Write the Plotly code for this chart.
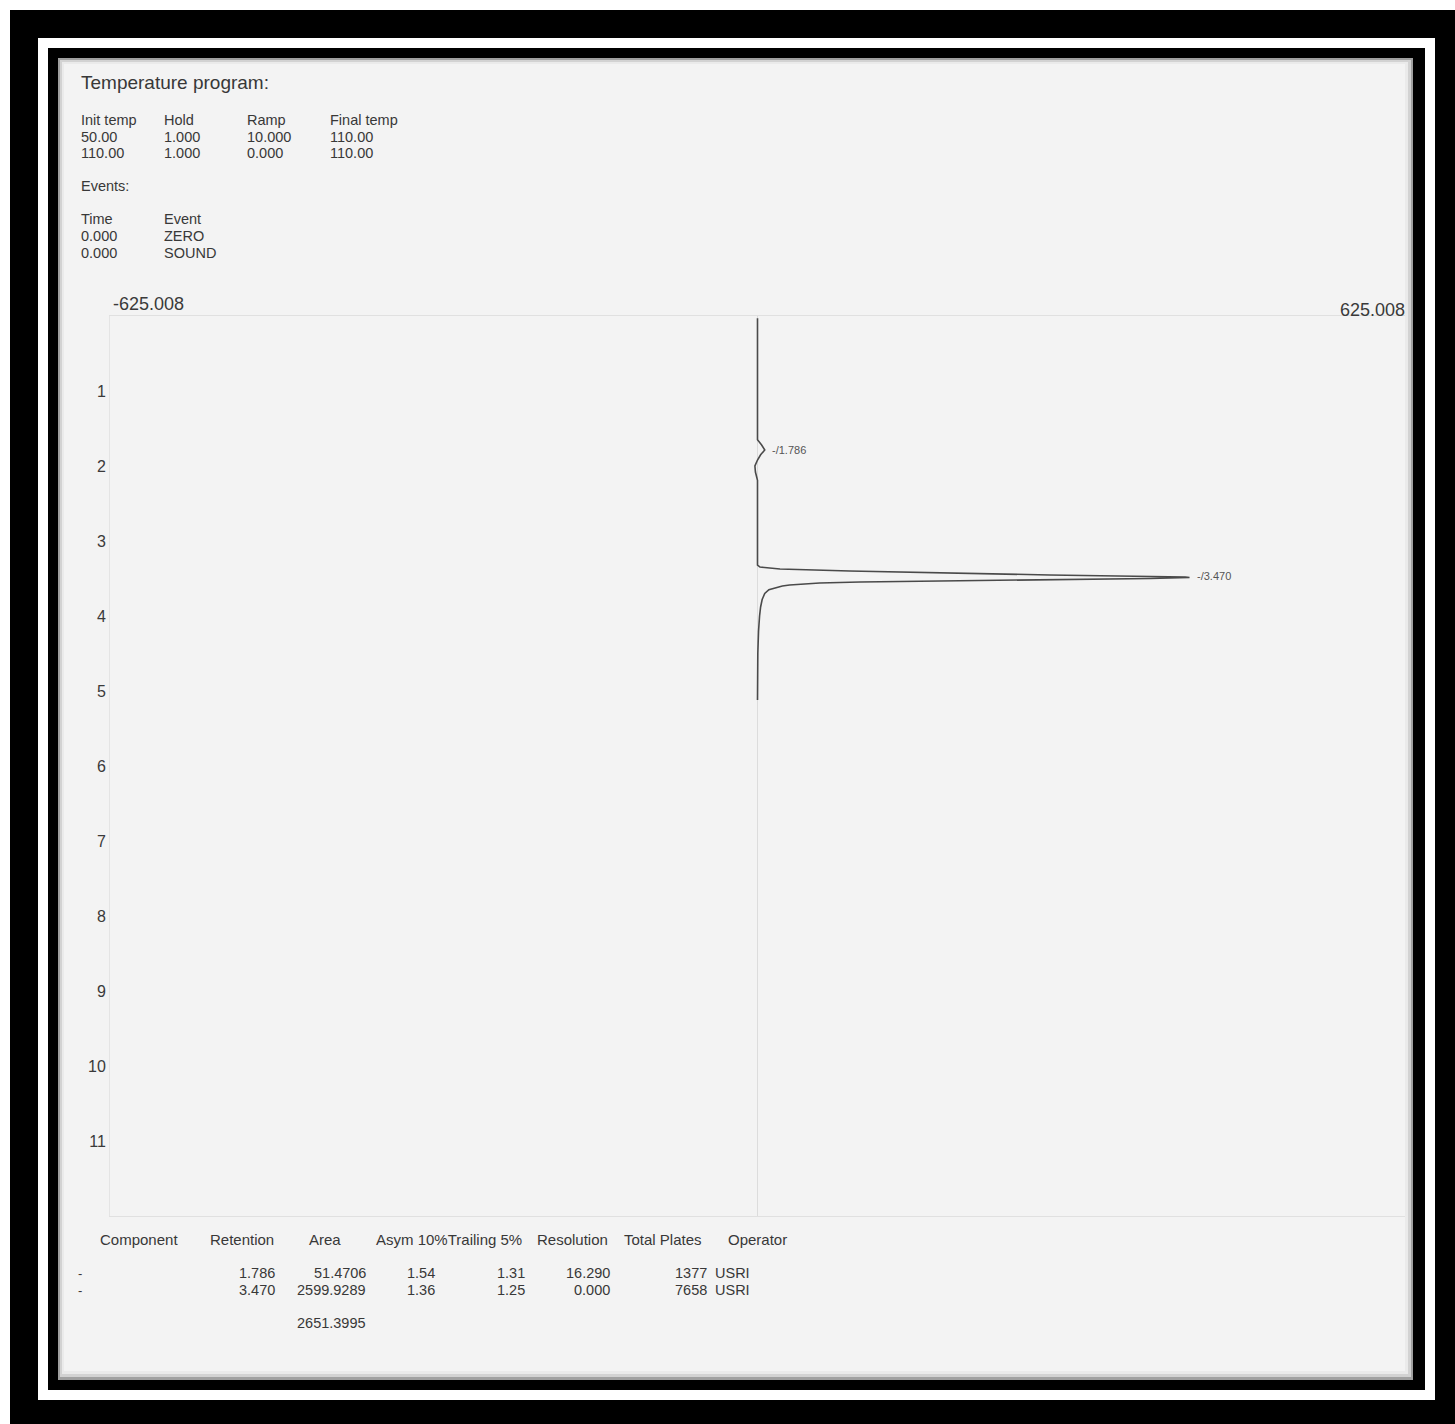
import plotly.graph_objects as go

W, H = 1455, 1424

# ---------------- data ----------------
# chromatogram: detector signal vs retention time (min)
time_min = [0.03, 1.65, 1.72, 1.787, 1.85, 1.92, 2.00, 2.08, 2.19,
            3.32, 3.347, 3.373, 3.40, 3.427, 3.453, 3.48, 3.487,
            3.50, 3.52, 3.533, 3.547, 3.56, 3.587, 3.60, 3.65, 3.70,
            3.78, 3.88, 4.00, 4.20, 4.50, 5.12]
signal = [0, 0, 4, 7, 3, 0, -2.5, -2, 0,
          0, 2.4, 21.7, 89, 176, 282, 413, 417,
          379, 282, 176, 99, 60, 31, 24, 11, 7,
          4.5, 3, 2, 1, 0.3, 0]

x_range = [-625.008, 625.008]
x_range_labels = ["-625.008", "625.008"]
time_ticks = [1, 2, 3, 4, 5, 6, 7, 8, 9, 10, 11]

peak_retention = [1.786, 3.470]
peak_signal = [7, 417]
peak_labels = ["-/1.786", "-/3.470"]

# temperature program
temp_headers = ["Init temp", "Hold", "Ramp", "Final temp"]
temp_rows = [["50.00", "1.000", "10.000", "110.00"],
             ["110.00", "1.000", "0.000", "110.00"]]

# events
event_headers = ["Time", "Event"]
event_rows = [["0.000", "ZERO"], ["0.000", "SOUND"]]

# results table
res_headers = ["Component", "Retention", "Area", "Asym 10%Trailing 5%",
               "Resolution", "Total Plates", "Operator"]
component = ["-", "-"]
retention = ["1.786", "3.470"]
area = ["51.4706", "2599.9289"]
asym10 = ["1.54", "1.36"]
trailing5 = ["1.31", "1.25"]
resolution = ["16.290", "0.000"]
plates = ["1377", "7658"]
operator = ["USRI", "USRI"]
area_total = "2651.3995"

# ---------------- figure ----------------
FONT = "Liberation Sans, Arial, sans-serif"
TXT = "#383838"

fig = go.Figure()
fig.add_trace(go.Scatter(x=signal, y=time_min, mode="lines",
                         line=dict(color="#4a4a4a", width=1.6),
                         hoverinfo="skip"))

ann = []


def txt(xp, yp, s, size, anchor="left", color=TXT):
    ann.append(dict(xref="paper", yref="paper", x=xp / W, y=1 - yp / H,
                    text=s, showarrow=False, xanchor=anchor, yanchor="middle",
                    font=dict(family=FONT, size=size, color=color)))


# top text block
txt(79, 82, "Temperature program:", 19)
col_x = [79, 162, 245, 328]
for cx, h in zip(col_x, temp_headers):
    txt(cx, 120, h, 14.5)
for ry, row in zip([137, 153], temp_rows):
    for cx, v in zip(col_x, row):
        txt(cx, ry, v, 14.5)
txt(79, 186, "Events:", 14.5)
for cx, h in zip(col_x[:2], event_headers):
    txt(cx, 219, h, 14.5)
for ry, row in zip([236, 253], event_rows):
    for cx, v in zip(col_x[:2], row):
        txt(cx, ry, v, 14.5)

# bottom results table
hdr_cx = [139, 242, 325, 449, 572, 663, 757]
for cx, h in zip(hdr_cx, res_headers):
    txt(cx, 1239, h, 15, anchor="center")
for i, ry in enumerate([1273, 1290]):
    txt(76, ry, component[i], 13)
    txt(277, ry, retention[i], 14.5, anchor="right")
    txt(368, ry, area[i], 14.5, anchor="right")
    txt(437, ry, asym10[i], 14.5, anchor="right")
    txt(527, ry, trailing5[i], 14.5, anchor="right")
    txt(612, ry, resolution[i], 14.5, anchor="right")
    txt(709, ry, plates[i], 14.5, anchor="right")
    txt(713, ry, operator[i], 14.5)
txt(368, 1323, area_total, 14.5, anchor="right")

# axis end labels (signal range)
ann.append(dict(xref="x", yref="paper", x=x_range[0], y=1 - 304 / H,
                text=x_range_labels[0], showarrow=False, xanchor="left",
                yanchor="middle", xshift=1,
                font=dict(family=FONT, size=18, color="#3a3a3a")))
ann.append(dict(xref="x", yref="paper", x=x_range[1], y=1 - 310 / H,
                text=x_range_labels[1], showarrow=False, xanchor="right",
                yanchor="middle", xshift=2,
                font=dict(family=FONT, size=18, color="#3a3a3a")))

# peak labels
for rt, sv, lab in zip(peak_retention, peak_signal, peak_labels):
    ann.append(dict(xref="x", yref="y", x=sv, y=rt, text=lab,
                    showarrow=False, xanchor="left", yanchor="middle",
                    xshift=5,
                    font=dict(family=FONT, size=11, color="#555")))

# frame shapes
def rect(x0, y0, x1, y1, color):
    return dict(type="rect", xref="paper", yref="paper",
                x0=x0 / W, x1=x1 / W, y0=1 - y1 / H, y1=1 - y0 / H,
                fillcolor=color, line=dict(width=0), layer="below")


shapes = [
    rect(10, 10, 1455, 1424, "#000000"),
    rect(38, 38, 1435, 1400, "#ffffff"),
    rect(48, 48, 1425, 1390, "#000000"),
    rect(58, 58, 1413, 1380, "#a0a0a0"),
    rect(60, 60, 1411, 1377, "#d2d2d2"),
    rect(62, 62, 1408, 1374, "#eaeaea"),
    rect(64, 64, 1405, 1371, "#f3f3f3"),
]

fig.update_layout(
    template="none",
    width=W, height=H,
    margin=dict(l=0, r=0, t=0, b=0),
    paper_bgcolor="#ffffff",
    plot_bgcolor="rgba(0,0,0,0)",
    showlegend=False,
    annotations=ann,
    shapes=shapes,
    xaxis=dict(domain=[110 / W, 1405 / W], range=x_range,
               showgrid=False, showticklabels=False, ticks="",
               zeroline=True, zerolinecolor="#dcdcdc", zerolinewidth=1,
               showline=True, mirror=True, linecolor="#e0e0e0", linewidth=1,
               automargin=False, fixedrange=True),
    yaxis=dict(domain=[1 - 1216 / H, 1 - 316 / H], range=[12, 0],
               tickvals=time_ticks, ticktext=[str(t) for t in time_ticks],
               tickfont=dict(family=FONT, size=16, color="#3a3a3a"),
               ticks="", ticklabelstandoff=0,
               showgrid=False, zeroline=False,
               showline=True, linecolor="#e4e4e4", linewidth=1,
               automargin=False, fixedrange=True),
)

fig.write_html("out.html",
               config={"displayModeBar": False},
               post_script="document.body.style.margin='0';"
                           "document.body.style.overflow='hidden';")
